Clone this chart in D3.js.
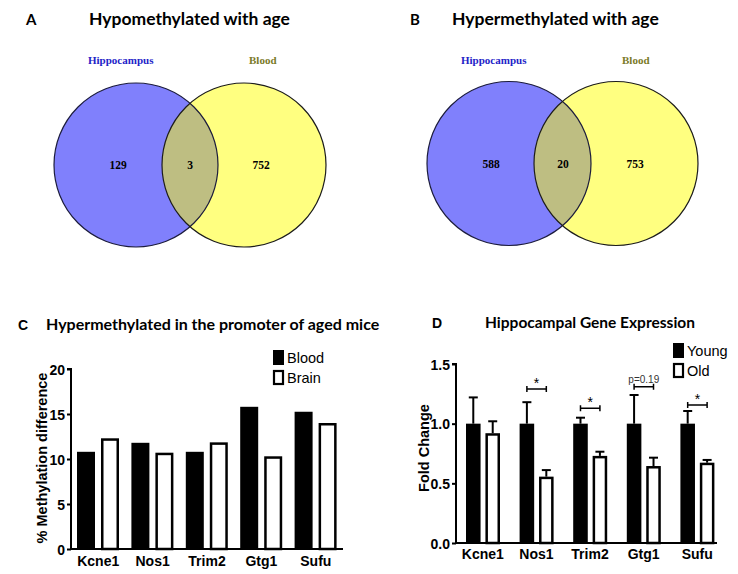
<!DOCTYPE html>
<html><head><meta charset="utf-8">
<script src="https://cdn.jsdelivr.net/npm/d3@7"></script>
<style>body{margin:0;background:#fff}svg{display:block}</style>
</head><body><svg id="c" width="738" height="574"></svg>
<script>
// ---- data ----
const vennLabels = ["Hippocampus", "Blood"];
const vennA = [129, 3, 752];   // hippocampus only, both, blood only
const vennB = [588, 20, 753];
const genes = ["Kcne1", "Nos1", "Trim2", "Gtg1", "Sufu"];
const seriesC = ["Blood", "Brain"];
const bloodDiff = [10.8, 11.8, 10.8, 15.8, 15.25];
const brainDiff = [12.3, 10.7, 11.85, 10.3, 14.0];
const ticksC = [0, 5, 10, 15, 20];
const seriesD = ["Young", "Old"];
const youngFC = [1.0, 1.0, 1.0, 1.0, 1.0];
const youngErr = [0.22, 0.18, 0.05, 0.24, 0.106];
const oldFC = [0.92, 0.556, 0.73, 0.645, 0.673];
const oldErr = [0.10, 0.055, 0.035, 0.07, 0.023];
const ticksD = [0.0, 0.5, 1.0, 1.5];
const sigGenes = ["Nos1", "Trim2", "Gtg1", "Sufu"];
const sigLabels = ["*", "*", "p=0.19", "*"];
const sigLevels = [1.29, 1.13, 1.31, 1.157];

const svg = d3.select("#c");
const titleFont = "Lato, 'Open Sans', sans-serif";
const axFont = "'Liberation Sans', Arial, sans-serif";
const serif = "'Liberation Serif', 'Times New Roman', serif";

// ---- Venn diagrams ----
function venn(g, vals, letter, title, cfg) {
  g.append("text").attr("x", cfg.letterX).attr("y", 25).attr("font-family", titleFont)
    .attr("font-weight", 700).attr("font-size", 15).text(letter);
  g.append("text").attr("x", cfg.titleX).attr("y", 25).attr("font-family", titleFont)
    .attr("font-weight", 700).attr("font-size", 17.5).text(title);
  g.append("text").attr("x", cfg.hipX).attr("y", 64).attr("font-family", serif)
    .attr("font-weight", 700).attr("font-size", 11).attr("fill", "#2323c8").text(vennLabels[0]);
  g.append("text").attr("x", cfg.bloodX).attr("y", 64).attr("font-family", serif)
    .attr("font-weight", 700).attr("font-size", 11).attr("fill", "#7a7a28").text(vennLabels[1]);
  const id = "clip" + letter;
  g.append("clipPath").attr("id", id).append("circle")
    .attr("cx", cfg.cx1).attr("cy", cfg.cy).attr("r", cfg.r);
  g.append("circle").attr("cx", cfg.cx1).attr("cy", cfg.cy).attr("r", cfg.r).attr("fill", "#8080fc");
  g.append("circle").attr("cx", cfg.cx2).attr("cy", cfg.cy).attr("r", cfg.r).attr("fill", "#ffff80");
  g.append("circle").attr("cx", cfg.cx2).attr("cy", cfg.cy).attr("r", cfg.r).attr("fill", "#bebe82")
    .attr("clip-path", `url(#${id})`);
  g.append("circle").attr("cx", cfg.cx1).attr("cy", cfg.cy).attr("r", cfg.r).attr("fill", "none")
    .attr("stroke", "#1c1c3c").attr("stroke-width", 1.2);
  g.append("circle").attr("cx", cfg.cx2).attr("cy", cfg.cy).attr("r", cfg.r).attr("fill", "none")
    .attr("stroke", "#1c1c1c").attr("stroke-width", 1.2);
  const xs = cfg.numX;
  vals.forEach((v, i) => g.append("text").attr("x", xs[i]).attr("y", cfg.cy + 4)
    .attr("text-anchor", "middle").attr("font-family", serif).attr("font-weight", 700)
    .attr("font-size", 11.5).text(v));
}
venn(svg.append("g"), vennA, "A", "Hypomethylated with age",
  {letterX: 26, titleX: 89, hipX: 88, bloodX: 249, cx1: 136, cx2: 244, cy: 165, r: 82, numX: [118, 190, 261]});
venn(svg.append("g"), vennB, "B", "Hypermethylated with age",
  {letterX: 410, titleX: 452, hipX: 461, bloodX: 622, cx1: 509, cx2: 616, cy: 163.5, r: 82, numX: [491, 563, 635]});

// ---- bar charts ----
function barChart(cfg) {
  const g = svg.append("g");
  const x = d3.scaleBand().domain(genes).range(cfg.xRange);
  const xs = d3.scaleBand().domain(cfg.series).range(cfg.subRange).paddingInner(0.25);
  const y = d3.scaleLinear().domain(cfg.yDomain).range(cfg.yRange);
  // letter + title
  g.append("text").attr("x", cfg.letterX).attr("y", cfg.titleY).attr("font-family", axFont)
    .attr("font-weight", 700).attr("font-size", 14).text(cfg.letter);
  g.append("text").attr("x", cfg.titleX).attr("y", cfg.titleY).attr("font-family", titleFont)
    .attr("font-weight", 700).attr("font-size", cfg.titleSize).text(cfg.title);
  // bars
  genes.forEach((gn, i) => {
    cfg.values.forEach((vals, s) => {
      const bx = x(gn) + xs(cfg.series[s]);
      const bw = xs.bandwidth();
      if (cfg.errs) {
        const top = y(vals[i] + cfg.errs[s][i]);
        g.append("line").attr("x1", bx + bw / 2).attr("x2", bx + bw / 2)
          .attr("y1", y(vals[i])).attr("y2", top).attr("stroke", "#000").attr("stroke-width", 2);
        g.append("line").attr("x1", bx + bw / 2 - 4.5).attr("x2", bx + bw / 2 + 4.5)
          .attr("y1", top).attr("y2", top).attr("stroke", "#000").attr("stroke-width", 2);
      }
      if (s === 0) {
        g.append("rect").attr("x", bx).attr("y", y(vals[i])).attr("width", bw)
          .attr("height", y(0) - y(vals[i])).attr("fill", "#000");
      } else {
        g.append("rect").attr("x", bx + 1.25).attr("y", y(vals[i]) + 1.25).attr("width", bw - 2.5)
          .attr("height", y(0) - y(vals[i]) - 1.25).attr("fill", "#fff")
          .attr("stroke", "#000").attr("stroke-width", 2.5);
      }
    });
  });
  // axes
  const yAx = g.append("g").attr("transform", `translate(${cfg.xRange[0]},0)`)
    .call(d3.axisLeft(y).tickValues(cfg.ticks).tickFormat(cfg.fmt).tickSize(4).tickPadding(2));
  yAx.select(".domain").attr("stroke-width", 2).attr("d", `M-4,${cfg.yRange[1]}H0V${cfg.yRange[0]}`);
  yAx.selectAll(".tick line").attr("stroke-width", 2);
  yAx.selectAll("text").attr("font-family", axFont).attr("font-weight", 700)
    .attr("font-size", cfg.tickSize).attr("fill", "#000").attr("dy", "0.36em");
  const xAx = g.append("g").attr("transform", `translate(0,${cfg.yRange[0]})`)
    .call(d3.axisBottom(x).tickSize(0).tickPadding(cfg.xPad));
  xAx.select(".domain").attr("stroke-width", 2).attr("d", `M${cfg.xRange[0]},0H${cfg.axisEnd}`);
  xAx.selectAll("text").attr("font-family", axFont).attr("font-weight", 700)
    .attr("font-size", cfg.tickSize).attr("fill", "#000");
  // y label
  g.append("text").attr("transform", `translate(${cfg.ylabX},${cfg.ylabY}) rotate(-90)`)
    .attr("text-anchor", "middle").attr("font-family", axFont).attr("font-weight", 700)
    .attr("font-size", 14.5).text(cfg.ylab);
  // legend
  cfg.series.forEach((s, k) => {
    const ly = cfg.legY + k * 20;
    if (k === 0) g.append("rect").attr("x", cfg.legX).attr("y", ly).attr("width", 11).attr("height", 15).attr("fill", "#000");
    else g.append("rect").attr("x", cfg.legX + 1).attr("y", ly + 1).attr("width", 9).attr("height", 13)
      .attr("fill", "#fff").attr("stroke", "#000").attr("stroke-width", 2.2);
    g.append("text").attr("x", cfg.legX + 14).attr("y", ly + 13).attr("font-family", axFont)
      .attr("font-size", 14.5).text(s);
  });
  return {g, x, xs, y};
}

barChart({
  letter: "C", letterX: 18, titleX: 46, titleY: 330, titleSize: 16,
  title: "Hypermethylated in the promoter of aged mice",
  series: seriesC, values: [bloodDiff, brainDiff], errs: null,
  xRange: [71, 343], axisEnd: 343, subRange: [6, 48], yDomain: [0, 20], yRange: [549, 369],
  ticks: ticksC, fmt: d3.format("d"), tickSize: 14, xPad: 7,
  ylab: "% Methylation difference", ylabX: 47, ylabY: 458, legX: 273, legY: 350
});

const D = barChart({
  letter: "D", letterX: 432, titleX: 485, titleY: 328, titleSize: 15.5,
  title: "Hippocampal Gene Expression",
  series: seriesD, values: [youngFC, oldFC], errs: [youngErr, oldErr],
  xRange: [456, 724], axisEnd: 717, subRange: [10, 44], yDomain: [0, 1.5], yRange: [543, 364],
  ticks: ticksD, fmt: d3.format(".1f"), tickSize: 14, xPad: 6,
  ylab: "Fold Change", ylabX: 429, ylabY: 448, legX: 673, legY: 343
});

// significance brackets
sigGenes.forEach((gn, i) => {
  const x1 = D.x(gn) + D.xs("Young") + D.xs.bandwidth() / 2;
  const x2 = D.x(gn) + D.xs("Old") + D.xs.bandwidth() / 2;
  const yy = D.y(sigLevels[i]);
  D.g.append("path").attr("d", `M${x1},${yy - 3}V${yy + 3}M${x1},${yy}H${x2}M${x2},${yy - 3}V${yy + 3}`)
    .attr("stroke", "#000").attr("stroke-width", 1.5).attr("fill", "none");
  const star = sigLabels[i] === "*";
  D.g.append("text").attr("x", (x1 + x2) / 2).attr("y", star ? yy - 1 : yy - 4)
    .attr("text-anchor", "middle").attr("font-family", axFont)
    .attr("font-size", star ? 14 : 10).attr("fill", star ? "#000" : "#333").text(sigLabels[i]);
});
</script></body></html>
